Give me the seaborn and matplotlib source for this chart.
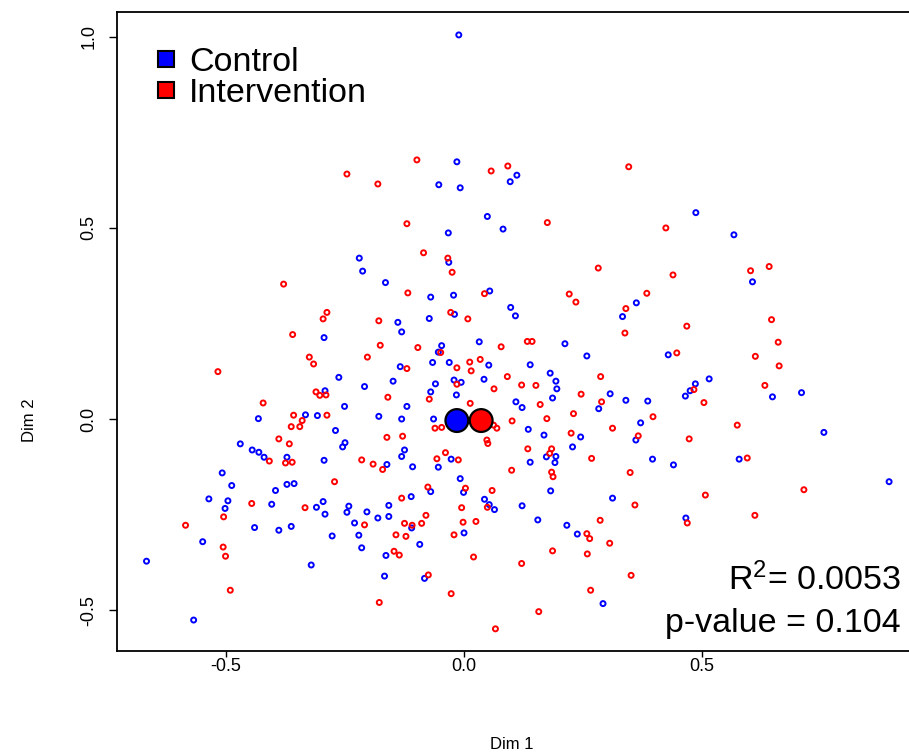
import numpy as np
import pandas as pd
import matplotlib
matplotlib.use("Agg")
import matplotlib.pyplot as plt
from matplotlib.lines import Line2D
import seaborn as sns

# ---------------- data ----------------
control_x = [-0.011, -0.015, -0.008, -0.053, 0.097, 0.111, 0.049, 0.487, 0.082, -0.033,
             -0.220, -0.032, -0.213, -0.165, -0.070, -0.022, 0.054, -0.139, -0.073, -0.020,
             0.098, 0.108, -0.131, -0.294, -0.047, -0.054, 0.032, -0.134, -0.066, -0.031,
             0.052, -0.263, -0.209, -0.149, -0.060, -0.021, -0.006, 0.042, -0.070, -0.016,
             -0.292, 0.109, -0.251, -0.120, -0.308, -0.179, -0.131, -0.064, -0.270, -0.432,
             -0.333, 0.362, 0.333, 0.212, 0.258, 0.429, 0.139, 0.181, 0.193, 0.195,
             0.515, 0.486, 0.475, 0.465, 0.307, 0.283, 0.340, 0.386, 0.186, 0.122,
             0.371, 0.135, 0.168, 0.245, 0.361, 0.567, 0.606, 0.648, 0.709, 0.756,
             -0.470, -0.445, -0.431, -0.420, -0.372, -0.508, -0.488, -0.396, -0.372, -0.357,
             -0.536, -0.496, -0.502, -0.404, -0.310, -0.440, -0.389, -0.363, -0.549, -0.667,
             -0.321, -0.568, -0.250, -0.255, -0.294, -0.162, -0.125, -0.131, -0.108, -0.027,
             -0.054, -0.008, -0.001, -0.070, -0.111, -0.296, -0.292, -0.242, -0.246, -0.204,
             -0.158, -0.181, -0.158, 0.043, 0.053, 0.064, -0.230, -0.110, 0.000, -0.277,
             -0.221, -0.215, -0.093, -0.164, -0.167, -0.083, 0.173, 0.193, 0.139, 0.191,
             0.228, 0.396, 0.440, 0.182, 0.312, 0.122, 0.155, 0.466, 0.216, 0.238,
             0.292, 0.578, 0.893]
control_y = [1.005, 0.673, 0.605, 0.613, 0.621, 0.638, 0.530, 0.540, 0.497, 0.487,
             0.421, 0.410, 0.387, 0.357, 0.319, 0.324, 0.335, 0.253, 0.263, 0.274,
             0.292, 0.270, 0.228, 0.213, 0.192, 0.175, 0.202, 0.137, 0.148, 0.148,
             0.141, 0.109, 0.085, 0.099, 0.092, 0.102, 0.096, 0.104, 0.071, 0.063,
             0.074, 0.045, 0.033, 0.033, 0.009, 0.007, 0.000, 0.000, -0.030, 0.001,
             0.011, 0.304, 0.268, 0.197, 0.165, 0.168, 0.142, 0.120, 0.099, 0.079,
             0.105, 0.092, 0.074, 0.060, 0.066, 0.027, 0.049, 0.047, 0.055, 0.030,
             -0.010, -0.027, -0.042, -0.047, -0.055, 0.482, 0.359, 0.058, 0.069, -0.035,
             -0.065, -0.081, -0.087, -0.100, -0.100, -0.141, -0.174, -0.187, -0.171, -0.169,
             -0.209, -0.214, -0.234, -0.223, -0.231, -0.284, -0.291, -0.281, -0.321, -0.372,
             -0.382, -0.526, -0.062, -0.073, -0.108, -0.119, -0.081, -0.098, -0.125, -0.105,
             -0.126, -0.156, -0.192, -0.190, -0.203, -0.216, -0.249, -0.228, -0.244, -0.243,
             -0.226, -0.259, -0.255, -0.210, -0.224, -0.237, -0.272, -0.285, -0.298, -0.306,
             -0.304, -0.337, -0.328, -0.357, -0.411, -0.417, -0.099, -0.098, -0.113, -0.114,
             -0.073, -0.105, -0.120, -0.188, -0.207, -0.227, -0.264, -0.259, -0.278, -0.301,
             -0.483, -0.105, -0.164]

interv_x = [-0.099, -0.246, -0.181, 0.057, 0.092, -0.120, 0.346, 0.175, 0.424, -0.085,
            -0.034, -0.025, -0.118, 0.043, -0.288, -0.296, -0.179, -0.028, 0.008, -0.176,
            -0.203, -0.097, -0.049, 0.078, -0.120, -0.015, 0.012, 0.034, 0.015, 0.091,
            -0.015, 0.063, -0.073, -0.160, -0.311, -0.303, -0.290, 0.013, -0.288, -0.061,
            -0.047, 0.062, 0.069, 0.101, -0.162, -0.129, 0.048, -0.379, -0.360, -0.325,
            -0.316, -0.517, -0.422, -0.358, -0.340, -0.363, -0.345, -0.389, 0.282, 0.439,
            0.221, 0.235, 0.384, 0.340, 0.468, 0.338, 0.133, 0.143, 0.447, 0.287,
            0.121, 0.151, 0.483, 0.504, 0.246, 0.289, 0.160, 0.174, 0.230, 0.397,
            0.312, 0.225, 0.366, 0.473, 0.602, 0.641, 0.646, 0.660, 0.612, 0.662,
            0.632, 0.574, -0.367, -0.409, -0.375, -0.361, -0.446, -0.334, -0.505, -0.585,
            -0.506, -0.501, -0.491, 0.050, -0.215, -0.191, -0.171, -0.039, -0.057, -0.012,
            0.100, -0.272, 0.003, -0.076, 0.059, -0.131, -0.080, -0.005, 0.049, -0.209,
            -0.125, -0.109, -0.089, -0.002, 0.025, -0.021, -0.143, -0.122, -0.147, -0.136,
            0.020, -0.075, -0.027, -0.178, 0.066, 0.134, 0.184, 0.180, 0.268, 0.349,
            0.184, 0.187, 0.507, 0.359, 0.286, 0.469, 0.258, 0.264, 0.306, 0.186,
            0.259, 0.121, 0.351, 0.266, 0.157, 0.595, 0.714, 0.611]
interv_y = [0.678, 0.641, 0.615, 0.649, 0.662, 0.511, 0.660, 0.514, 0.500, 0.435,
            0.421, 0.384, 0.330, 0.328, 0.279, 0.262, 0.257, 0.279, 0.262, 0.193,
            0.162, 0.187, 0.174, 0.189, 0.132, 0.134, 0.149, 0.156, 0.126, 0.111,
            0.091, 0.079, 0.052, 0.057, 0.071, 0.062, 0.063, 0.041, 0.010, -0.024,
            -0.022, -0.016, -0.024, -0.005, -0.048, -0.045, -0.055, 0.353, 0.221, 0.162,
            0.144, 0.124, 0.042, 0.010, -0.004, -0.020, -0.020, -0.052, 0.395, 0.377,
            0.327, 0.306, 0.329, 0.289, 0.243, 0.225, 0.203, 0.203, 0.173, 0.111,
            0.089, 0.088, 0.077, 0.043, 0.065, 0.045, 0.038, 0.001, 0.014, 0.006,
            -0.024, -0.037, -0.044, -0.052, 0.388, 0.399, 0.260, 0.201, 0.164, 0.139,
            0.088, -0.016, -0.065, -0.110, -0.115, -0.113, -0.221, -0.232, -0.256, -0.278,
            -0.335, -0.359, -0.448, -0.064, -0.107, -0.118, -0.132, -0.088, -0.104, -0.107,
            -0.134, -0.164, -0.181, -0.178, -0.187, -0.207, -0.252, -0.232, -0.231, -0.277,
            -0.273, -0.278, -0.273, -0.270, -0.268, -0.303, -0.303, -0.307, -0.346, -0.356,
            -0.361, -0.408, -0.457, -0.480, -0.549, -0.078, -0.078, -0.090, -0.103, -0.140,
            -0.139, -0.151, -0.199, -0.225, -0.265, -0.272, -0.300, -0.313, -0.325, -0.345,
            -0.353, -0.378, -0.409, -0.448, -0.504, -0.102, -0.185, -0.252]

groups = ["Control", "Intervention"]
mean_x = [-0.015, 0.036]
mean_y = [-0.004, -0.004]
colors = {"Control": "#0000FF", "Intervention": "#FF0000"}
x_ticks = [-0.5, 0.0, 0.5]
x_ticklabels = ["-0.5", "0.0", "0.5"]
y_ticks = [-0.5, 0.0, 0.5, 1.0]
y_ticklabels = ["-0.5", "0.0", "0.5", "1.0"]
r2_text = r"R$^2$= 0.0053"
p_text = "p-value = 0.104"

# ---------------- figure ----------------
sns.set_style("ticks")
plt.rcParams["font.family"] = ["Liberation Sans", "DejaVu Sans"]
plt.rcParams["mathtext.fontset"] = "custom"
plt.rcParams["mathtext.rm"] = "Liberation Sans"
plt.rcParams["mathtext.it"] = "Liberation Sans"
for key in ["text.color", "axes.labelcolor", "xtick.color", "ytick.color",
            "xtick.labelcolor", "ytick.labelcolor"]:
    plt.rcParams[key] = "black"

df = pd.DataFrame({
    "Dim1": control_x + interv_x,
    "Dim2": control_y + interv_y,
    "group": ["Control"] * len(control_x) + ["Intervention"] * len(interv_x),
})
means = pd.DataFrame({"Dim1": mean_x, "Dim2": mean_y, "group": groups})

fig = plt.figure(figsize=(9.09, 7.56), dpi=100)
ax = fig.add_axes([117 / 909, 1 - 651 / 756, (911 - 117) / 909, (651 - 12) / 756])

sns.scatterplot(data=df, x="Dim1", y="Dim2", hue="group", hue_order=groups,
                palette=colors, s=13, linewidth=1.4, legend=False, ax=ax, zorder=3)
coll = ax.collections[0]
fc = coll.get_facecolors()
coll.set_edgecolors(fc)
coll.set_facecolors("none")

sns.scatterplot(data=means, x="Dim1", y="Dim2", hue="group", hue_order=groups,
                palette=colors, s=270, edgecolor="black", linewidth=1.6,
                legend=False, ax=ax, zorder=4)

ax.set_xlim(-0.729, 0.939)
ax.set_ylim(-0.607, 1.065)

ax.set_xticks(x_ticks)
ax.set_xticklabels(x_ticklabels, fontsize=13)
ax.set_yticks(y_ticks)
ax.set_yticklabels(y_ticklabels, fontsize=13, rotation=90, va="center")
ax.tick_params(axis="both", direction="out", width=1, color="black")
ax.tick_params(axis="x", length=4, pad=1)
ax.tick_params(axis="y", length=6, pad=8)

ax.set_xlabel("Dim 1", fontsize=12)
ax.set_ylabel("Dim 2", fontsize=12)
ax.xaxis.set_label_coords((512 - 117) / 794, (651 - 737) / 639)
ax.yaxis.set_label_coords((37 - 117) / 794, (651 - 420) / 639)

for side in ["left", "bottom", "top"]:
    ax.spines[side].set_visible(True)
    ax.spines[side].set_color("black")
    ax.spines[side].set_linewidth(1.3)
ax.spines["right"].set_visible(False)

handles = [Line2D([0], [0], marker="s", linestyle="none", markersize=12,
                  markerfacecolor=colors[g], markeredgecolor="black",
                  markeredgewidth=1.5, label=g) for g in groups]
ax.legend(handles=handles, loc="upper left", bbox_to_anchor=(0.046, 0.945),
          frameon=False, fontsize=24.5, handlelength=0.75, handletextpad=0.3,
          borderpad=0, borderaxespad=0, labelspacing=0.0)

ax.text(0.987, 0.096, r2_text, transform=ax.transAxes, ha="right", va="baseline",
        fontsize=24.5)
ax.text(0.987, 0.030, p_text, transform=ax.transAxes, ha="right", va="baseline",
        fontsize=24.5)

fig.savefig("out.png", dpi=100)
